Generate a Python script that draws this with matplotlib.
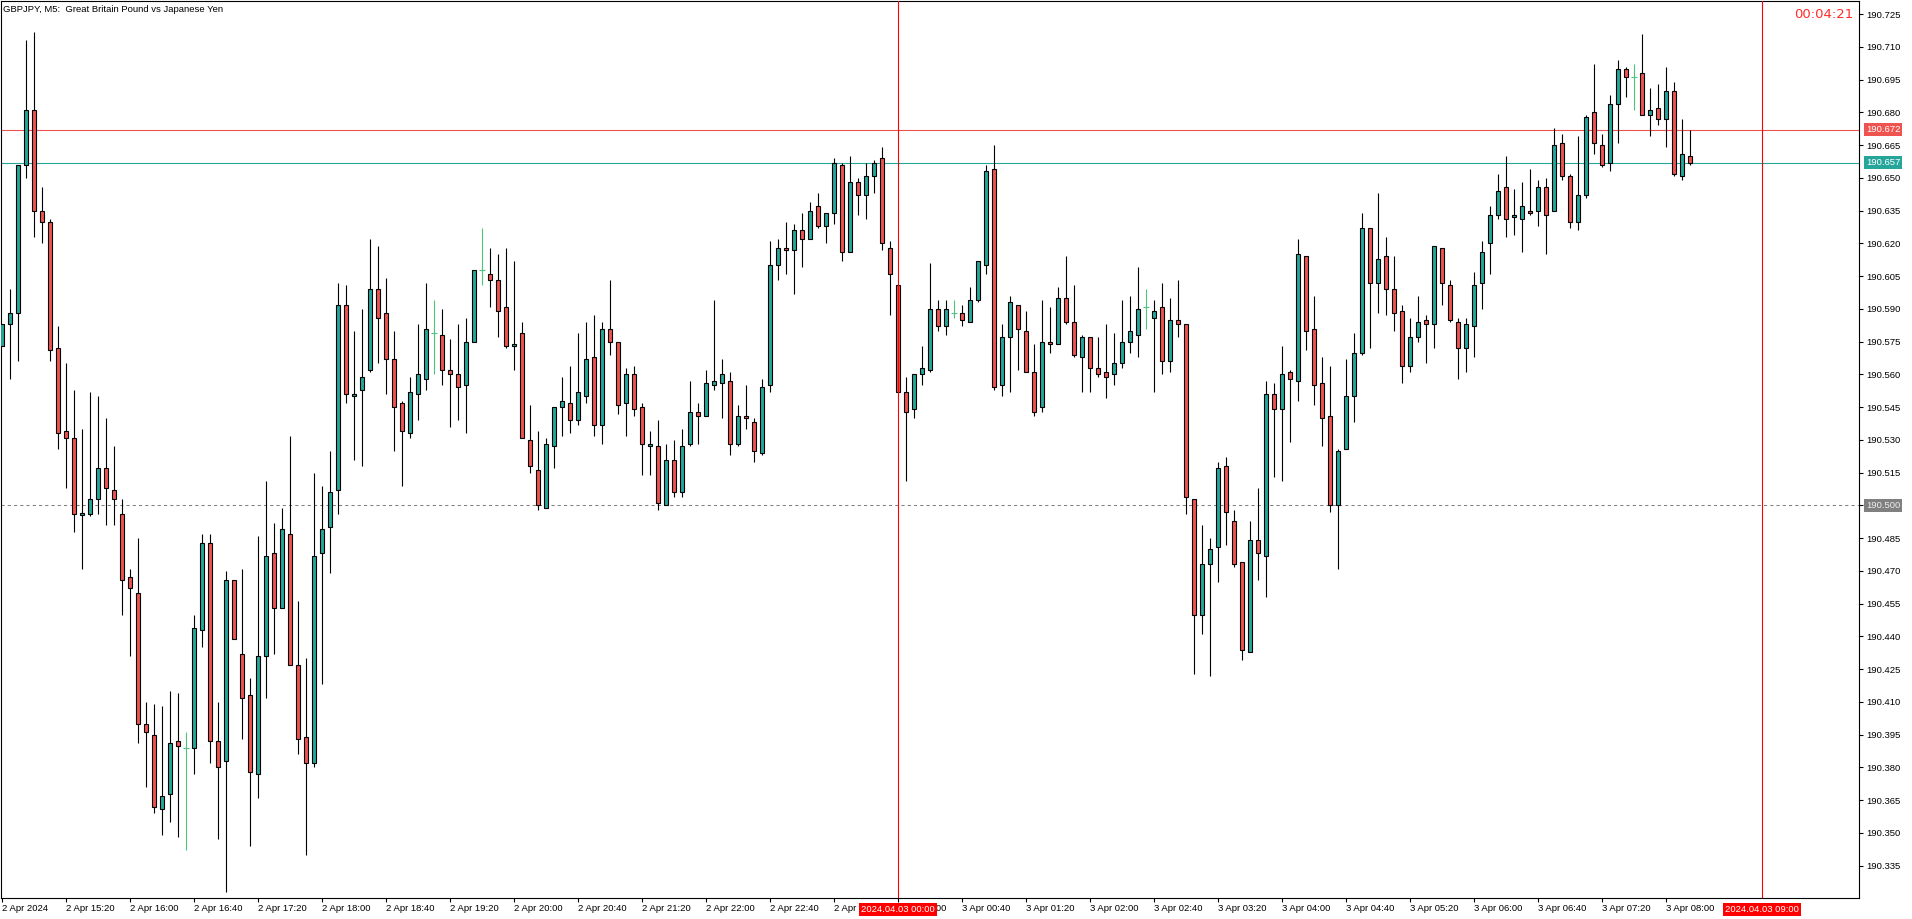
import matplotlib
matplotlib.use('Agg')
import matplotlib.pyplot as plt
import numpy as np

# GBPJPY M5, one bar every 5 minutes from 2 Apr 14:40 to 3 Apr 08:15
opens = [190.573, 190.583, 190.588, 190.656, 190.681, 190.635, 190.630, 190.572, 190.534, 190.531,
         190.4955, 190.496, 190.503, 190.517, 190.507, 190.496, 190.467, 190.460, 190.400, 190.395,
         190.361, 190.368, 190.392, 190.389, 190.389, 190.443, 190.483, 190.392, 190.383, 190.466,
         190.432, 190.413, 190.377, 190.431, 190.478, 190.453, 190.487, 190.427, 190.394, 190.382,
         190.478, 190.490, 190.507, 190.592, 190.550, 190.553, 190.562, 190.599, 190.588, 190.567,
         190.547, 190.533, 190.551, 190.558, 190.579, 190.578, 190.562, 190.560, 190.555, 190.575,
         190.608, 190.606, 190.603, 190.591, 190.573, 190.579, 190.530, 190.516, 190.499, 190.527,
         190.545, 190.547, 190.539, 190.550, 190.568, 190.537, 190.581, 190.575, 190.547, 190.560,
         190.545, 190.527, 190.527, 190.500, 190.521, 190.506, 190.528, 190.543, 190.541, 190.555,
         190.556, 190.557, 190.528, 190.541, 190.538, 190.524, 190.555, 190.610, 190.618, 190.617,
         190.626, 190.622, 190.637, 190.628, 190.634, 190.656, 190.616, 190.648, 190.642, 190.651,
         190.659, 190.618, 190.601, 190.552, 190.544, 190.560, 190.562, 190.590, 190.582, 190.588,
         190.588, 190.584, 190.594, 190.610, 190.654, 190.555, 190.577, 190.592, 190.580, 190.561,
         190.545, 190.575, 190.574, 190.595, 190.584, 190.568, 190.577, 190.563, 190.561, 190.560,
         190.565, 190.575, 190.578, 190.591, 190.586, 190.591, 190.566, 190.585, 190.583, 190.503,
         190.450, 190.473, 190.481, 190.518, 190.493, 190.474, 190.433, 190.484, 190.477, 190.551,
         190.544, 190.561, 190.557, 190.614, 190.581, 190.556, 190.541, 190.500, 190.526, 190.550,
         190.570, 190.627, 190.602, 190.614, 190.599, 190.589, 190.564, 190.577, 190.585, 190.583,
         190.618, 190.601, 190.584, 190.572, 190.582, 190.602, 190.620, 190.633, 190.646, 190.632,
         190.631, 190.635, 190.635, 190.646, 190.635, 190.666, 190.651, 190.630, 190.642, 190.680,
         190.665, 190.657, 190.684, 190.700, 190.696, 190.698, 190.679, 190.682, 190.677, 190.690,
         190.651, 190.660]
highs = [190.583, 190.599, 190.656, 190.713, 190.717, 190.646, 190.631, 190.582, 190.565, 190.553,
         190.535, 190.552, 190.550, 190.540, 190.527, 190.503, 190.471, 190.485, 190.410, 190.409,
         190.408, 190.415, 190.414, 190.396, 190.450, 190.487, 190.487, 190.410, 190.470, 190.466,
         190.471, 190.421, 190.486, 190.511, 190.492, 190.499, 190.532, 190.456, 190.430, 190.515,
         190.509, 190.525, 190.602, 190.601, 190.580, 190.590, 190.622, 190.619, 190.604, 190.580,
         190.548, 190.559, 190.583, 190.602, 190.594, 190.590, 190.576, 190.583, 190.586, 190.608,
         190.627, 190.618, 190.615, 190.618, 190.612, 190.584, 190.546, 190.534, 190.531, 190.545,
         190.559, 190.564, 190.579, 190.584, 190.587, 190.584, 190.603, 190.575, 190.563, 190.564,
         190.547, 190.534, 190.539, 190.528, 190.530, 190.535, 190.557, 190.547, 190.562, 190.594,
         190.567, 190.561, 190.546, 190.555, 190.540, 190.558, 190.621, 190.622, 190.630, 190.629,
         190.634, 190.639, 190.643, 190.634, 190.659, 190.657, 190.660, 190.650, 190.657, 190.658,
         190.664, 190.621, 190.601, 190.559, 190.560, 190.573, 190.611, 190.594, 190.594, 190.594,
         190.592, 190.600, 190.612, 190.656, 190.665, 190.583, 190.596, 190.592, 190.589, 190.574,
         190.594, 190.591, 190.600, 190.614, 190.601, 190.578, 190.577, 190.577, 190.583, 190.579,
         190.594, 190.596, 190.609, 190.599, 190.594, 190.602, 190.595, 190.603, 190.583, 190.503,
         190.491, 190.485, 190.520, 190.522, 190.498, 190.474, 190.493, 190.508, 190.557, 190.556,
         190.573, 190.562, 190.622, 190.614, 190.596, 190.568, 190.564, 190.526, 190.567, 190.579,
         190.634, 190.627, 190.643, 190.623, 190.614, 190.592, 190.586, 190.596, 190.587, 190.619,
         190.618, 190.603, 190.586, 190.586, 190.607, 190.621, 190.637, 190.652, 190.660, 190.645,
         190.648, 190.654, 190.649, 190.650, 190.673, 190.670, 190.652, 190.669, 190.679, 190.702,
         190.670, 190.688, 190.704, 190.701, 190.702, 190.716, 190.691, 190.693, 190.701, 190.694,
         190.677, 190.672]
lows = [190.573, 190.558, 190.566, 190.650, 190.623, 190.620, 190.566, 190.526, 190.508, 190.488,
        190.471, 190.495, 190.496, 190.491, 190.491, 190.450, 190.431, 190.391, 190.371, 190.359,
        190.349, 190.355, 190.348, 190.342, 190.377, 190.435, 190.382, 190.347, 190.323, 190.439,
        190.393, 190.344, 190.366, 190.412, 190.432, 190.453, 190.427, 190.386, 190.340, 190.380,
        190.418, 190.469, 190.496, 190.547, 190.521, 190.518, 190.561, 190.565, 190.551, 190.525,
        190.509, 190.531, 190.539, 190.553, 190.560, 190.555, 190.536, 190.539, 190.533, 190.575,
        190.601, 190.591, 190.577, 190.572, 190.562, 190.531, 190.515, 190.498, 190.499, 190.517,
        190.532, 190.533, 190.537, 190.547, 190.532, 190.528, 190.569, 190.542, 190.532, 190.541,
        190.514, 190.514, 190.498, 190.500, 190.504, 190.504, 190.527, 190.528, 190.541, 190.553,
        190.540, 190.523, 190.527, 190.535, 190.520, 190.523, 190.552, 190.603, 190.606, 190.597,
        190.609, 190.622, 190.627, 190.620, 190.629, 190.612, 190.616, 190.633, 190.631, 190.643,
        190.617, 190.587, 190.552, 190.511, 190.540, 190.555, 190.561, 190.580, 190.578, 190.586,
        190.582, 190.584, 190.593, 190.606, 190.553, 190.550, 190.552, 190.562, 190.561, 190.541,
        190.543, 190.570, 190.574, 190.583, 190.568, 190.552, 190.552, 190.559, 190.549, 190.555,
        190.563, 190.570, 190.568, 190.581, 190.552, 190.560, 190.561, 190.577, 190.496, 190.423,
        190.441, 190.422, 190.465, 190.482, 190.472, 190.429, 190.433, 190.466, 190.458, 190.513,
        190.511, 190.529, 190.548, 190.571, 190.546, 190.527, 190.497, 190.471, 190.526, 190.538,
        190.569, 190.572, 190.588, 190.587, 190.580, 190.556, 190.561, 190.575, 190.565, 190.572,
        190.592, 190.584, 190.558, 190.561, 190.568, 190.590, 190.606, 190.631, 190.623, 190.624,
        190.616, 190.633, 190.628, 190.615, 190.635, 190.649, 190.627, 190.626, 190.641, 190.661,
        190.655, 190.653, 190.666, 190.687, 190.681, 190.679, 190.669, 190.674, 190.664, 190.651,
        190.649, 190.656]
closes = [190.583, 190.588, 190.656, 190.681, 190.635, 190.630, 190.571, 190.533, 190.531, 190.496,
          190.4965, 190.503, 190.517, 190.508, 190.503, 190.466, 190.462, 190.400, 190.396, 190.362,
          190.367, 190.391, 190.390, 190.389, 190.444, 190.483, 190.392, 190.380, 190.466, 190.439,
          190.412, 190.378, 190.431, 190.477, 190.453, 190.489, 190.427, 190.393, 190.382, 190.477,
          190.489, 190.506, 190.592, 190.551, 190.551, 190.559, 190.599, 190.586, 190.567, 190.545,
          190.534, 190.552, 190.560, 190.581, 190.579, 190.562, 190.560, 190.554, 190.575, 190.608,
          190.608, 190.603, 190.589, 190.573, 190.574, 190.531, 190.518, 190.500, 190.528, 190.545,
          190.548, 190.539, 190.552, 190.567, 190.537, 190.581, 190.575, 190.546, 190.560, 190.544,
          190.528, 190.528, 190.501, 190.521, 190.506, 190.527, 190.543, 190.541, 190.556, 190.557,
          190.560, 190.528, 190.541, 190.540, 190.525, 190.554, 190.610, 190.618, 190.617, 190.626,
          190.622, 190.635, 190.628, 190.634, 190.657, 190.616, 190.648, 190.642, 190.651, 190.657,
          190.620, 190.606, 190.552, 190.543, 190.560, 190.563, 190.590, 190.582, 190.590, 190.588,
          190.585, 190.594, 190.612, 190.653, 190.554, 190.577, 190.593, 190.581, 190.561, 190.543,
          190.575, 190.574, 190.595, 190.584, 190.569, 190.577, 190.563, 190.560, 190.559, 190.565,
          190.575, 190.580, 190.590, 190.591, 190.589, 190.566, 190.585, 190.583, 190.504, 190.450,
          190.473, 190.480, 190.517, 190.497, 190.473, 190.434, 190.484, 190.478, 190.551, 190.544,
          190.560, 190.558, 190.615, 190.580, 190.555, 190.540, 190.500, 190.525, 190.550, 190.570,
          190.627, 190.602, 190.613, 190.599, 190.588, 190.564, 190.577, 190.584, 190.583, 190.619,
          190.602, 190.585, 190.572, 190.583, 190.601, 190.616, 190.633, 190.644, 190.631, 190.633,
          190.637, 190.634, 190.646, 190.633, 190.665, 190.651, 190.630, 190.642, 190.678, 190.666,
          190.656, 190.684, 190.700, 190.696, 190.696, 190.679, 190.681, 190.677, 190.690, 190.652,
          190.661, 190.657]

tick_labels = ['2 Apr 2024', '2 Apr 15:20', '2 Apr 16:00', '2 Apr 16:40', '2 Apr 17:20',
               '2 Apr 18:00', '2 Apr 18:40', '2 Apr 19:20', '2 Apr 20:00', '2 Apr 20:40',
               '2 Apr 21:20', '2 Apr 22:00', '2 Apr 22:40', '2 Apr 23:20', '3 Apr 00:00',
               '3 Apr 00:40', '3 Apr 01:20', '3 Apr 02:00', '3 Apr 02:40', '3 Apr 03:20',
               '3 Apr 04:00', '3 Apr 04:40', '3 Apr 05:20', '3 Apr 06:00', '3 Apr 06:40',
               '3 Apr 07:20', '3 Apr 08:00']

ask_price = 190.672
bid_price = 190.657
level_price = 190.500
vline_bars = [112, 220]
vline_labels = ['2024.04.03 00:00', '2024.04.03 09:00']
title = 'GBPJPY, M5:  Great Britain Pound vs Japanese Yen'
timer = '00:04:21'

bull = '#26a69a'
bear = '#ef5350'
doji_col = '#4cc47e'

plt.rcParams['font.family'] = ['Liberation Sans', 'DejaVu Sans']

fig = plt.figure(figsize=(19.12, 9.19), dpi=100)
ax = fig.add_axes([1 / 1912, 21 / 919, 1858 / 1912, 897 / 919])

o = np.array(opens)
h = np.array(highs)
l = np.array(lows)
c = np.array(closes)
x = np.arange(len(o))
up = c > o
down = c < o
doji = c == o
solid = ~doji

ax.vlines(x[solid], l[solid], h[solid], color='black', lw=0.8, zorder=2)
ax.bar(x[up], c[up] - o[up], bottom=o[up], width=0.62, color=bull,
       edgecolor='black', linewidth=0.8, zorder=3)
ax.bar(x[down], o[down] - c[down], bottom=c[down], width=0.62, color=bear,
       edgecolor='black', linewidth=0.8, zorder=3)
ax.vlines(x[doji], l[doji], h[doji], color=doji_col, lw=0.8, zorder=3)
ax.hlines(o[doji], x[doji] - 0.35, x[doji] + 0.35, color=doji_col, lw=0.8, zorder=3)

# horizontal price lines
ax.axhline(ask_price, color=bear, lw=0.8, zorder=1)
ax.axhline(bid_price, color=bull, lw=0.8, zorder=1)
ax.axhline(level_price, color='#808080', lw=0.75, ls=(0, (3, 3)), zorder=1)
for b in vline_bars:
    ax.axvline(b, color='#ff0000', lw=0.8, zorder=4)

ax.set_xlim(-0.125, 232.125)
ax.set_ylim(190.3202, 190.7310)

ax.yaxis.tick_right()
ax.set_yticks(np.arange(190.335, 190.7251, 0.015))
ax.yaxis.set_major_formatter(plt.FormatStrFormatter('%.3f'))
ax.tick_params(axis='y', direction='out', length=3, width=0.8, pad=2.2, labelsize=6.8)

ax.set_xticks(range(0, 8 * len(tick_labels), 8))
ax.set_xticklabels(tick_labels)
ax.tick_params(axis='x', direction='out', length=3, width=0.8, pad=1.2, labelsize=6.8)
for lab in ax.get_xticklabels():
    lab.set_ha('left')

for s in ax.spines.values():
    s.set_linewidth(0.8)
    s.set_color('black')

# price tags on the right scale
ytr = ax.get_yaxis_transform()
for price, col, tcol in [(ask_price, bear, 'white'), (bid_price, bull, 'white'),
                         (level_price, '#808080', '#eeeeee')]:
    ax.text(1.0038, price, f'{price:.3f}', transform=ytr, ha='left', va='center',
            fontsize=6.8, color=tcol, zorder=6,
            bbox=dict(boxstyle='square,pad=0.2', fc=col, ec='none'))

# time tags on the bottom scale
xtr = ax.get_xaxis_transform()
for b, txt in zip(vline_bars, vline_labels):
    ax.text(b, -0.0125, txt, transform=xtr, ha='center', va='center',
            fontsize=6.8, color='white', zorder=6,
            bbox=dict(boxstyle='square,pad=0.2', fc='#ff0000', ec='none'))

fig.text(3 / 1912, 1 - 9.5 / 919, title, ha='left', va='center', fontsize=6.8)
fig.text(1853 / 1912, 1 - 14.5 / 919, timer, ha='right', va='center',
         fontsize=9.5, color='#ff2a2a', family='DejaVu Sans')

fig.savefig('out.png', dpi=100, facecolor='white')
